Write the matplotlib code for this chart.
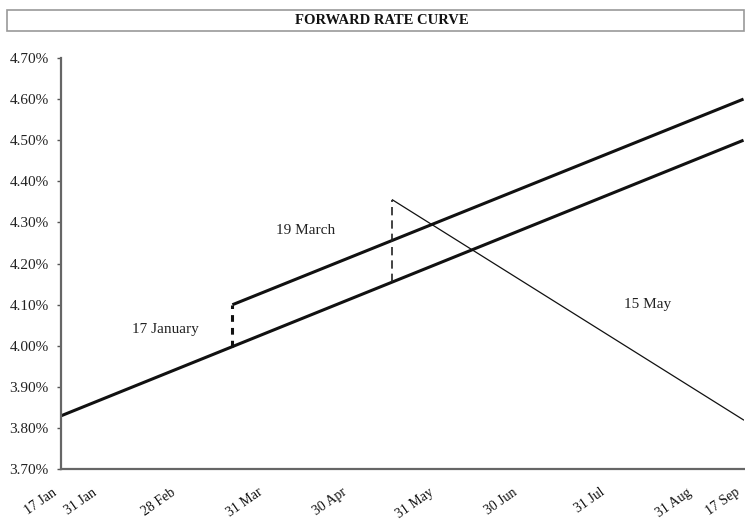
import numpy as np
import matplotlib
matplotlib.use("Agg")
import matplotlib.pyplot as plt
import matplotlib.dates as mdates
import matplotlib.transforms as mtransforms
from matplotlib.patches import Rectangle
from matplotlib.ticker import FuncFormatter, MultipleLocator
from datetime import datetime

plt.rcParams["font.family"] = ["Liberation Serif", "DejaVu Serif"]

# Forward rate curves (percent), each a straight line between two dates
jan_dates = ["2007-01-17", "2007-09-17"]
jan_rates = [3.83, 4.50]

mar_dates = ["2007-03-19", "2007-09-17"]
mar_rates = [4.10, 4.60]

may_dates = ["2007-05-15", "2007-09-17"]
may_rates = [4.355, 3.82]

tick_dates = ["2007-01-17", "2007-01-31", "2007-02-28", "2007-03-31", "2007-04-30",
              "2007-05-31", "2007-06-30", "2007-07-31", "2007-08-31", "2007-09-17"]
tick_labels = ["17 Jan", "31 Jan", "28 Feb", "31 Mar", "30 Apr",
               "31 May", "30 Jun", "31 Jul", "31 Aug", "17 Sep"]

curve_labels = ["17 January", "19 March", "15 May"]
label_dates = ["2007-02-23", "2007-04-14", "2007-08-14"]
label_rates = [4.04, 4.28, 4.10]


def to_num(ds):
    return mdates.date2num([datetime.strptime(d, "%Y-%m-%d") for d in ds])


xj, xm, xy = to_num(jan_dates), to_num(mar_dates), to_num(may_dates)

fig = plt.figure(figsize=(7.45, 5.22), dpi=100)
ax = fig.add_axes([0.082, 0.101, 0.916, 0.788])

ink = "#111111"
ax.plot(xj, jan_rates, color=ink, lw=2.2, solid_capstyle="butt")
ax.plot(xm, mar_rates, color=ink, lw=2.2, solid_capstyle="butt")
ax.plot(xy, may_rates, color=ink, lw=0.9)

# Jumps from the earlier curve up to the new curve on each revision date
base_mar = np.interp(xm[0], xj, jan_rates)
ax.plot([xm[0], xm[0]], [base_mar, mar_rates[0]], color=ink, lw=2.2,
        dashes=(2.2, 2.0))
base_may = np.interp(xy[0], xj, jan_rates)
ax.plot([xy[0], xy[0]], [base_may, may_rates[0]], color="#222222", lw=1.2,
        dashes=(5, 3))

for txt, d, r in zip(curve_labels, to_num(label_dates), label_rates):
    ax.text(d, r, txt, ha="center", va="center", fontsize=11, color="#222222")

ax.set_xlim(xj[0], xj[1])
ax.set_ylim(3.70, 4.70)
ax.yaxis.set_major_locator(MultipleLocator(0.10))
ax.yaxis.set_major_formatter(FuncFormatter(lambda v, p: f"{v:.2f}%"))
ax.set_xticks(to_num(tick_dates))
ax.set_xticklabels(tick_labels, rotation=35, ha="right", rotation_mode="anchor")
ax.tick_params(axis="x", length=0, pad=12, labelsize=10, labelcolor="#111111")
ax.tick_params(axis="y", length=3, width=1, color="#555555", pad=6,
               labelsize=11, labelcolor="#222222")
shift = mtransforms.ScaledTranslation(-9 / 100, 0, fig.dpi_scale_trans)
for lab in ax.get_xticklabels():
    lab.set_transform(lab.get_transform() + shift)

for s in ("top", "right"):
    ax.spines[s].set_visible(False)
for s in ("left", "bottom"):
    ax.spines[s].set_color("#666666")
    ax.spines[s].set_linewidth(1.6)

# Title bar across the top
fig.patches.append(Rectangle((7 / 745, 1 - 31 / 522), 737 / 745, 21 / 522,
                             transform=fig.transFigure, facecolor="white",
                             edgecolor="#999999", lw=1.2))
fig.text(0.512, 1 - 20.5 / 522, "FORWARD RATE CURVE", ha="center", va="center",
         fontsize=10.5, fontweight="bold", color="#111111")

fig.savefig("out.png", dpi=100)
